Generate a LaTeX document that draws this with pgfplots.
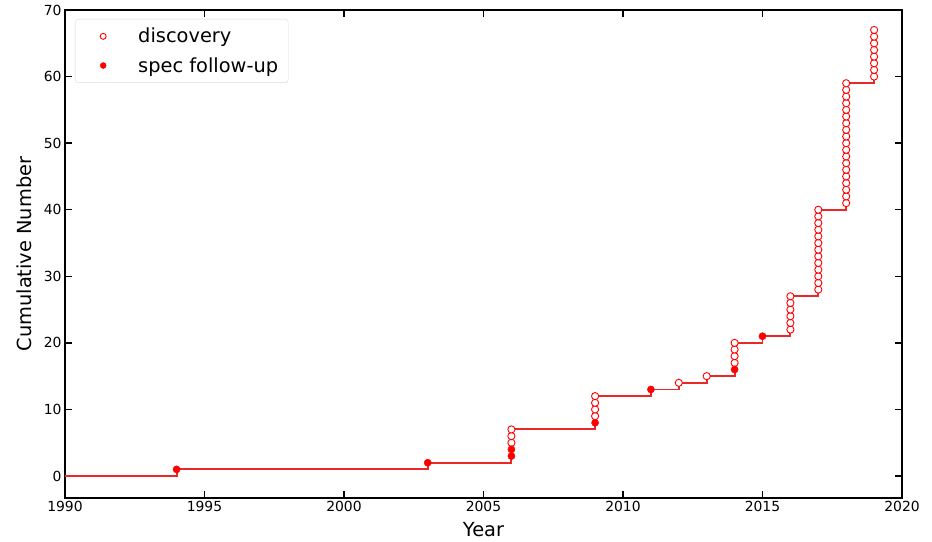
\documentclass[border=0pt]{standalone}
\usepackage{fontspec}
\setmainfont{DejaVu Sans}
\usepackage{pgfplots}
\pgfplotsset{compat=1.18}
\pgfplotsset{
  markonly legend/.style={
    legend image code/.code={\path[draw=none, fill=none] (0pt,0pt) rectangle (53pt,0.1pt);
      \draw[##1, mark size=3pt] plot coordinates {(20pt,0pt)};}},
}

\begin{document}
\begin{tikzpicture}
\path[use as bounding box] (-65pt,-43pt) rectangle (867pt,498pt);
\begin{axis}[
  at={(0,0)}, anchor=south west,
  scale only axis, width=837pt, height=488pt,
  xmin=1990, xmax=2020, ymin=-3.3, ymax=70,
  xtick={1990,1995,...,2020}, ytick={0,10,...,70},
  tick align=inside, tick pos=both,
  major tick length=7pt,
  every tick/.style={black, line width=1.5pt},
  axis line style={line width=1.8pt},
  /pgf/number format/assume math mode=true,
  /pgf/number format/set thousands separator={},
  tick label style={font=\fontsize{13.9}{16}\selectfont},
  xlabel={Year}, ylabel={Cumulative Number},
  label style={font=\fontsize{19.4}{22}\selectfont},
  xlabel style={yshift=-3.5pt},
  ylabel style={yshift=5pt},
  legend cell align=left,
  legend style={at={(0,1)}, anchor=north west, xshift=10pt, yshift=-9pt,
    draw=black!15, rounded corners=3pt, font=\fontsize{19.4}{22}\selectfont,
    row sep=9pt, inner xsep=8pt, inner ysep=7pt},
]
% cumulative count as a step line
\addplot[color={rgb,255:red,235;green,40;blue,40}, line width=1.9pt, const plot, forget plot] coordinates {
  (1990,0) (1994,1) (2003,2) (2006,7) (2009,12) (2011,13) (2012,14)
  (2013,15) (2014,20) (2015,21) (2016,27) (2017,40) (2018,59) (2019,60)
};
% discoveries
\addplot[only marks, mark=*, mark size=3.6pt,
  mark options={fill=white, draw=red, line width=0.9pt},
  markonly legend] coordinates {
  (2006,5) (2006,6) (2006,7)
  (2009,9) (2009,10) (2009,11) (2009,12)
  (2012,14) (2013,15)
  (2014,17) (2014,18) (2014,19) (2014,20)
  (2016,22) (2016,23) (2016,24) (2016,25) (2016,26) (2016,27)
  (2017,28) (2017,29) (2017,30) (2017,31) (2017,32) (2017,33) (2017,34)
  (2017,35) (2017,36) (2017,37) (2017,38) (2017,39) (2017,40)
  (2018,41) (2018,42) (2018,43) (2018,44) (2018,45) (2018,46) (2018,47)
  (2018,48) (2018,49) (2018,50) (2018,51) (2018,52) (2018,53) (2018,54)
  (2018,55) (2018,56) (2018,57) (2018,58) (2018,59)
  (2019,60) (2019,61) (2019,62) (2019,63) (2019,64) (2019,65) (2019,66) (2019,67)
};
\addlegendentry{discovery}
% spectroscopic follow-up
\addplot[only marks, mark=*, mark size=3.6pt,
  mark options={fill=red, draw=red},
  markonly legend] coordinates {
  (1994,1) (2003,2) (2006,3) (2006,4) (2009,8) (2011,13) (2014,16) (2015,21)
};
\addlegendentry{spec follow-up}
\end{axis}
\end{tikzpicture}
\end{document}
